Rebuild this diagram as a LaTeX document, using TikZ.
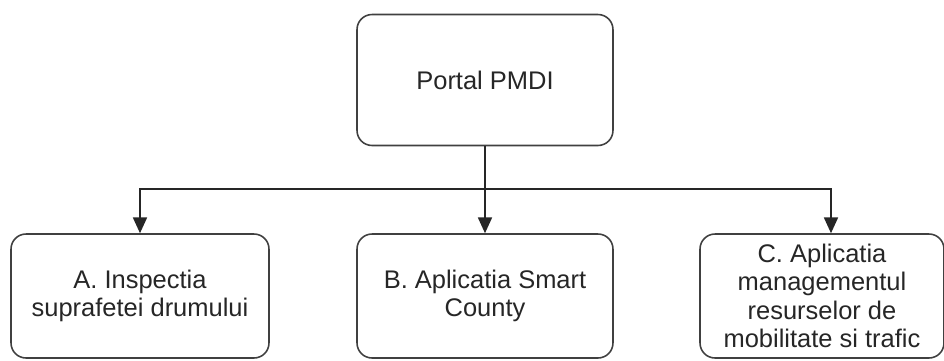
\documentclass[tikz,border=0pt]{standalone}
\usepackage{fontspec}
\setmainfont{Liberation Sans}
\usepackage{tikz}
\usetikzlibrary{arrows.meta}

\tikzset{
	box/.style={draw=black!75,line width=0.9pt,rounded corners=0.3cm,align=center,
		font=\fontsize{14.5}{16.1}\selectfont,text=black!85},
	arr/.style={draw=black!85,line width=0.9pt,-{Triangle[length=9pt,width=8pt]}}
}

\begin{document}
\begin{tikzpicture}[x=0.02cm,y=-0.02cm]
		\useasboundingbox (0,0) rectangle (944,360);
		\clip (0,0) rectangle (944,360);

		\node[box,minimum width=5.12cm,minimum height=2.62cm] (portal) at (485,80) {Portal PMDI};
		\node[box,minimum width=5.16cm,minimum height=2.48cm] (inspectie) at (140,296) {A. Inspectia\\suprafetei drumului};
		\node[box,minimum width=5.12cm,minimum height=2.48cm] (smart) at (485,296) {B. Aplicatia Smart\\County};
		\node[box,minimum width=4.88cm,minimum height=2.48cm] (mobil) at (822,296) {C. Aplicatia\\managementul\\resurselor de\\mobilitate si trafic};

		\coordinate (split) at (485,189);

		\draw[line width=0.9pt,black!85] (portal.south) -- (split);
		\draw[arr] (split) -| (inspectie.north);
		\draw[arr] (split) -- (smart.north);
		\draw[arr] (split) -| ([xshift=0.18cm]mobil.north);
	\end{tikzpicture}
\end{document}
